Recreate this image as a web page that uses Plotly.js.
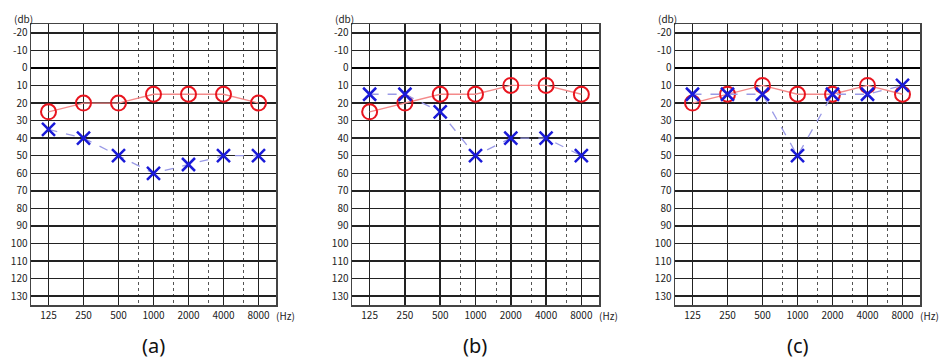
<!DOCTYPE html>
<html>
<head>
<meta charset="utf-8">
<script src="https://cdn.plot.ly/plotly-3.0.1.min.js"></script>
<style>html,body{margin:0;padding:0;background:#fff;}#chart{width:944px;height:360px;}</style>
</head>
<body>
<div id="chart"></div>
<script>
// Frequencies (Hz) and tick labels
const freqs = [125, 250, 500, 1000, 2000, 4000, 8000];
const freqLabels = ["125", "250", "500", "1000", "2000", "4000", "8000"];
const halfOctaves = [750, 1500, 3000, 6000];
const dbTickVals = [-20, -10, 0, 10, 20, 30, 40, 50, 60, 70, 80, 90, 100, 110, 120, 130];
const dbTickText = ["-20", "-10", "0", "10", "20", "30", "40", "50", "60", "70", "80", "90", "100", "110", "120", "130"];
const panelLabels = ["(a)", "(b)", "(c)"];

// Hearing thresholds (dB): right ear = O (red), left ear = X (blue)
const rightA = [25, 20, 20, 15, 15, 15, 20];
const leftA  = [35, 40, 50, 60, 55, 50, 50];
const rightB = [25, 20, 15, 15, 10, 10, 15];
const leftB  = [15, 15, 25, 50, 40, 40, 50];
const rightC = [20, 15, 10, 15, 15, 10, 15];
const leftC  = [15, 15, 15, 50, 15, 15, 10];

const rights = [rightA, rightB, rightC];
const lefts = [leftA, leftB, leftC];

const traces = [];
for (let i = 0; i < 3; i++) {
  const xa = i === 0 ? 'x' : 'x' + (i + 1);
  const ya = i === 0 ? 'y' : 'y' + (i + 1);
  traces.push({
    x: freqs, y: rights[i], xaxis: xa, yaxis: ya, type: 'scatter', mode: 'lines+markers',
    line: {color: '#f48a8a', width: 1.3},
    marker: {symbol: 'circle-open', size: 15, color: '#e8141e', line: {width: 2, color: '#e8141e'}},
    showlegend: false, hoverinfo: 'skip', cliponaxis: false
  });
  traces.push({
    x: freqs, y: lefts[i], xaxis: xa, yaxis: ya, type: 'scatter', mode: 'lines+markers',
    line: {color: '#9a9ae6', width: 1.3, dash: 'dash'},
    marker: {symbol: 'x-thin-open', size: 13, color: '#1a1ad8', line: {width: 2.5, color: '#1a1ad8'}},
    showlegend: false, hoverinfo: 'skip', cliponaxis: false
  });
}

const tickFont = {family: '"Noto Sans CJK JP", "DejaVu Sans", sans-serif', size: 10, color: '#222'};
const xDomains = [[31/944, 276/944], [352/944, 599/944], [675/944, 920/944]];
const yDomain = [1 - 305/360, 1 - 24/360];
const xr = [Math.log10(125/Math.SQRT2), Math.log10(8000*Math.SQRT2)];

const layout = {
  width: 944, height: 360,
  margin: {l: 0, r: 0, t: 0, b: 0},
  paper_bgcolor: '#fff', plot_bgcolor: '#fff',
  annotations: []
};

for (let i = 0; i < 3; i++) {
  const sfx = i === 0 ? '' : String(i + 1);
  layout['xaxis' + sfx] = {
    type: 'log', range: xr, domain: xDomains[i], anchor: 'y' + sfx,
    tickmode: 'array', tickvals: freqs, ticktext: freqLabels,
    showgrid: true, gridcolor: '#222', gridwidth: 1.5,
    showline: true, mirror: true, linecolor: '#444', linewidth: 1.5,
    ticks: '', tickfont: tickFont, fixedrange: true, zeroline: false,
    minor: {tickmode: 'array', tickvals: halfOctaves, showgrid: true, gridcolor: '#555', gridwidth: 1, griddash: 'dot', ticks: ''}
  };
  layout['yaxis' + sfx] = {
    range: [135, -25], domain: yDomain, anchor: 'x' + sfx,
    tickmode: 'array', tickvals: dbTickVals, ticktext: dbTickText,
    showgrid: true, gridcolor: '#222', gridwidth: 1.5,
    zeroline: true, zerolinecolor: '#000', zerolinewidth: 2.5,
    showline: true, mirror: true, linecolor: '#444', linewidth: 1.5,
    ticks: '', tickfont: tickFont, fixedrange: true
  };
  const left = xDomains[i][0], right = xDomains[i][1];
  layout.annotations.push({
    text: '(db)', xref: 'paper', yref: 'paper', x: left - 8/944, y: 1 - 18/360,
    xanchor: 'center', yanchor: 'middle', showarrow: false, font: tickFont
  });
  layout.annotations.push({
    text: '(Hz)', xref: 'paper', yref: 'paper', x: right + 9/944, y: 1 - 315/360,
    xanchor: 'center', yanchor: 'middle', showarrow: false, font: tickFont
  });
  layout.annotations.push({
    text: panelLabels[i], xref: 'paper', yref: 'paper', x: (left + right) / 2, y: 1 - 345/360,
    xanchor: 'center', yanchor: 'middle', showarrow: false,
    font: {family: '"Noto Sans", "DejaVu Sans", sans-serif', size: 20, color: '#111'}
  });
}

Plotly.newPlot('chart', traces, layout, {staticPlot: true, displayModeBar: false});
</script>
</body>
</html>
